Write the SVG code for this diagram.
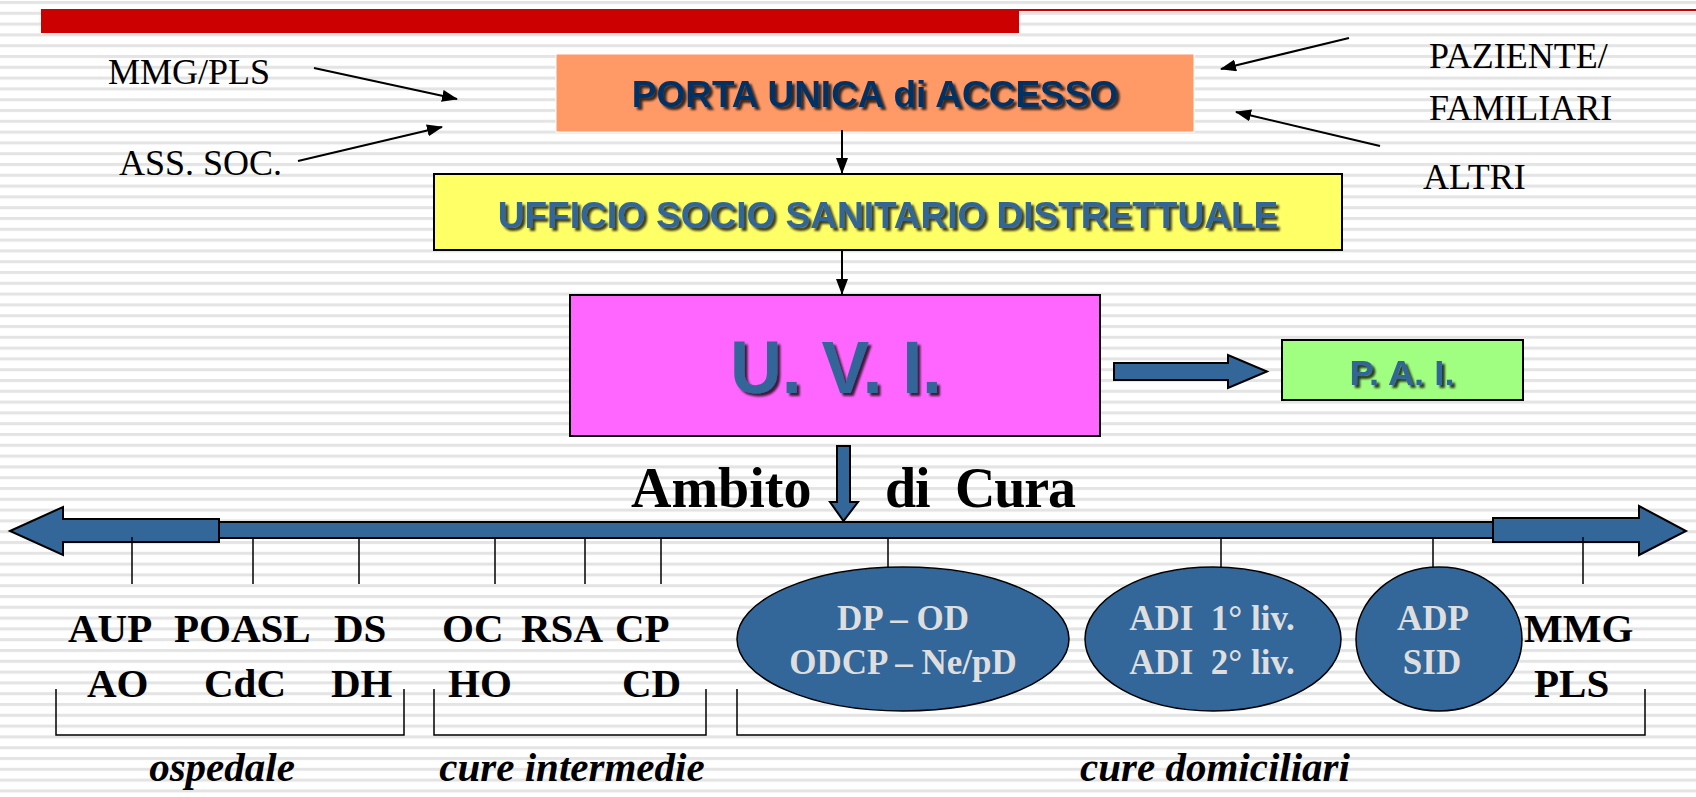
<svg xmlns="http://www.w3.org/2000/svg" width="1696" height="797" viewBox="0 0 1696 797">
<style>
.serif{font-family:"Liberation Serif","Times New Roman",serif}
.sans{font-family:"Liberation Sans",Arial,sans-serif;font-weight:bold}
.lbl{font-size:36px;fill:#000}
.btm{font-size:41px;font-weight:bold;fill:#000}
.ital{font-size:41px;font-weight:bold;font-style:italic;fill:#000;text-anchor:middle}
.ell{fill:#336699;stroke:#000;stroke-width:1.5}
.elltxt{font-size:35px;font-weight:bold;fill:#DEDEDE;text-anchor:middle}
.blk{fill:#336699;stroke:#000;stroke-width:2}
.thin{stroke:#000;stroke-width:2;fill:none}
.tick{stroke:#000;stroke-width:1.5;fill:none}
.box{stroke:#000;stroke-width:2}
</style>
<defs>
<pattern id="stripes" x="0" y="0" width="20" height="10.8" patternUnits="userSpaceOnUse">
<rect x="0" y="0" width="20" height="10.8" fill="#ffffff"/>
<rect x="0" y="1" width="20" height="3" fill="#e4e4e4"/>
</pattern>
<marker id="ah" markerWidth="16" markerHeight="12" refX="15" refY="6" orient="auto" markerUnits="userSpaceOnUse">
<path d="M0,0 L16,6 L0,12 z" fill="#000"/>
</marker>
<filter id="sh" x="-10%" y="-20%" width="130%" height="150%">
<feDropShadow dx="3" dy="3" stdDeviation="1.2" flood-color="#000" flood-opacity="0.75"/>
</filter>
</defs>
<rect x="0" y="0" width="1696" height="797" fill="url(#stripes)"/>
<rect x="41" y="9" width="978" height="24" fill="#CC0000"/>
<rect x="1019" y="9" width="677" height="2" fill="#CC0000"/>

<g id="label-mmg"><text class="serif lbl" x="108" y="84">MMG/PLS</text></g>
<g id="label-ass"><text class="serif lbl" x="119" y="175">ASS. SOC.</text></g>
<g id="label-paz"><text class="serif lbl" x="1429" y="68">PAZIENTE/</text><text class="serif lbl" x="1429" y="120">FAMILIARI</text></g>
<g id="label-altri"><text class="serif lbl" x="1423" y="189">ALTRI</text></g>

<g id="pua">
<rect x="556" y="54" width="638" height="78" fill="#FF9966" stroke="#ffffff" stroke-width="1"/>
<text class="sans" x="875" y="107" font-size="37" fill="#003366" text-anchor="middle" filter="url(#sh)">PORTA UNICA di ACCESSO</text>
</g>
<g id="ussd">
<rect class="box" x="434" y="174" width="908" height="76" fill="#FFFF66"/>
<text class="sans" x="888" y="228" font-size="37" fill="#336699" text-anchor="middle" filter="url(#sh)">UFFICIO SOCIO SANITARIO DISTRETTUALE</text>
</g>
<g id="uvi">
<rect class="box" x="570" y="295" width="530" height="141" fill="#FF66FF"/>
<text class="sans" x="836" y="393" font-size="74" fill="#336699" text-anchor="middle" textLength="212" lengthAdjust="spacingAndGlyphs" filter="url(#sh)">U. V. I.</text>
</g>
<g id="pai">
<rect class="box" x="1282" y="340" width="241" height="60" fill="#A0FF80"/>
<text class="sans" x="1402" y="385" font-size="35" fill="#336699" text-anchor="middle" textLength="105" lengthAdjust="spacingAndGlyphs" filter="url(#sh)">P. A. I.</text>
</g>

<g id="ambito">
<text class="serif" x="631" y="507" font-size="56" font-weight="bold">Ambito</text>
<text class="serif" x="885" y="507" font-size="56" font-weight="bold" style="white-space:pre" textLength="191">di  Cura</text>
</g>

<g id="axis">
<rect class="blk" x="210" y="522" width="1290" height="16"/>
<polygon class="blk" points="10,531 63,507 63,519 219,519 219,542 63,542 63,555"/>
<polygon class="blk" points="1493,518 1639,518 1639,506 1686,531 1639,555 1639,542 1493,542"/>
<path class="tick" d="M132,537V584M253,538V584M359,538V584M495,538V584M585,538V584M661,538V584M888,538V567M1221,538V567M1433,538V567M1583,537V584"/>
</g>

<g id="ospedale-items">
<text class="serif btm" x="68" y="642">AUP</text>
<text class="serif btm" x="174" y="642">POASL</text>
<text class="serif btm" x="334" y="642">DS</text>
<text class="serif btm" x="87" y="697">AO</text>
<text class="serif btm" x="204" y="697">CdC</text>
<text class="serif btm" x="331" y="697">DH</text>
</g>
<g id="intermedie-items">
<text class="serif btm" x="442" y="642">OC</text>
<text class="serif btm" x="521" y="642">RSA</text>
<text class="serif btm" x="615" y="642">CP</text>
<text class="serif btm" x="448" y="697">HO</text>
<text class="serif btm" x="622" y="697">CD</text>
</g>
<g id="dp-od">
<ellipse class="ell" cx="903" cy="639" rx="166" ry="72"/>
<text class="serif elltxt" x="903" y="630">DP – OD</text>
<text class="serif elltxt" x="903" y="674">ODCP – Ne/pD</text>
</g>
<g id="adi">
<ellipse class="ell" cx="1213" cy="639" rx="128" ry="72"/>
<text class="serif elltxt" x="1212" y="630" style="white-space:pre">ADI  1° liv.</text>
<text class="serif elltxt" x="1212" y="674" style="white-space:pre">ADI  2° liv.</text>
</g>
<g id="adp">
<ellipse class="ell" cx="1439" cy="639" rx="83" ry="72"/>
<text class="serif elltxt" x="1433" y="630">ADP</text>
<text class="serif elltxt" x="1432" y="674">SID</text>
</g>
<g id="mmg-pls">
<text class="serif btm" x="1524" y="642">MMG</text>
<text class="serif btm" x="1534" y="697">PLS</text>
</g>

<g id="groups">
<path class="tick" d="M56,689V735H404V689M434,689V735H706V689M737,689V735H1645V689"/>
<text class="serif ital" x="222" y="781">ospedale</text>
<text class="serif ital" x="572" y="781">cure intermedie</text>
<text class="serif ital" x="1215" y="781">cure domiciliari</text>
</g>

<g id="connectors">
<line class="thin" x1="314" y1="68" x2="457" y2="99" marker-end="url(#ah)"/>
<line class="thin" x1="298" y1="161" x2="442" y2="127" marker-end="url(#ah)"/>
<line class="thin" x1="1349" y1="38" x2="1221" y2="69" marker-end="url(#ah)"/>
<line class="thin" x1="1380" y1="146" x2="1236" y2="112" marker-end="url(#ah)"/>
<line class="thin" x1="842" y1="130" x2="842" y2="173" marker-end="url(#ah)"/>
<line class="thin" x1="842" y1="250" x2="842" y2="294" marker-end="url(#ah)"/>
<polygon class="blk" stroke-width="1.5" points="1114,363 1228,363 1228,355 1267,371.5 1228,388 1228,380 1114,380"/>
<polygon class="blk" stroke-width="1.5" points="837,446 850,446 850,502 858,502 843.5,521 830,502 837,502"/>
</g>
</svg>
